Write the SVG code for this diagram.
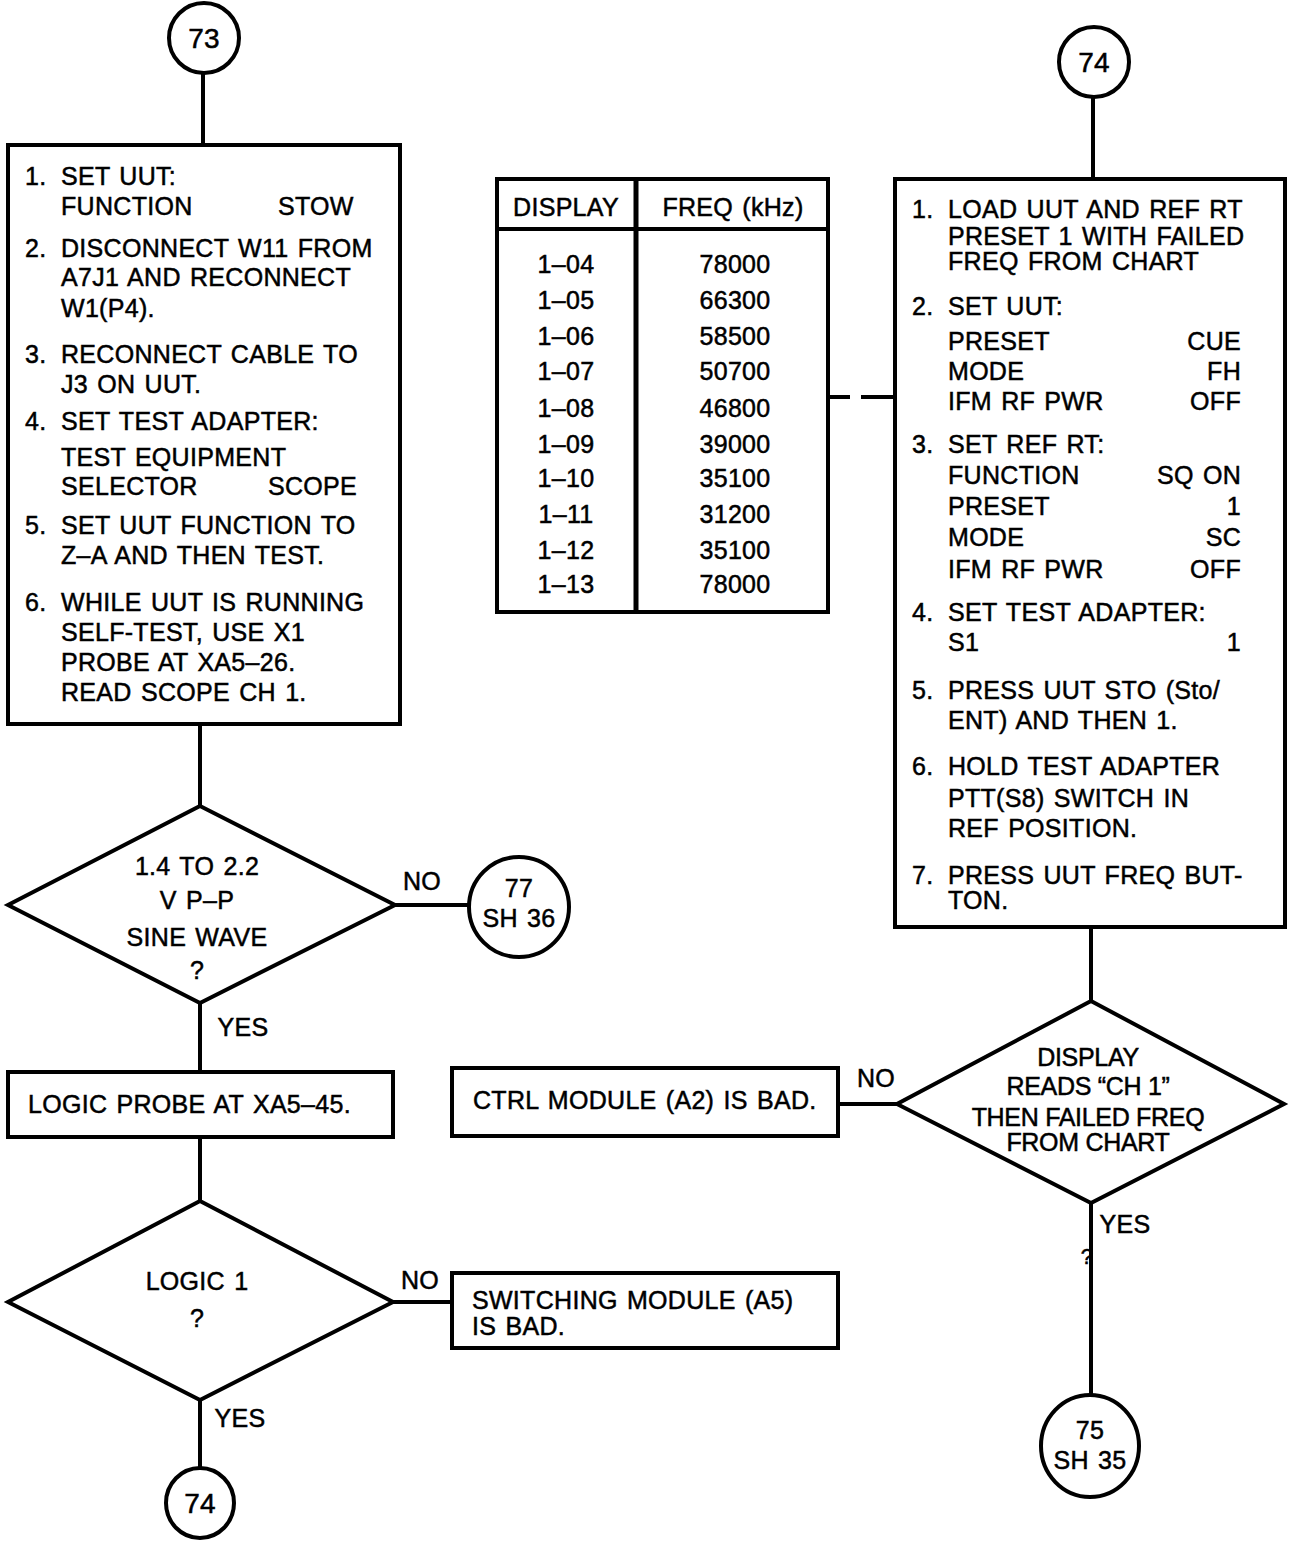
<svg xmlns="http://www.w3.org/2000/svg" width="1290" height="1541" viewBox="0 0 1290 1541">
  <style>
    .shape { fill: #fff; stroke: #000; stroke-width: 4; }
    .line { fill: none; stroke: #000; stroke-width: 4; }
    text { font-family: "Liberation Sans", Arial, sans-serif; font-size: 25px; fill: #000; stroke: #000; stroke-width: 0.5; letter-spacing: 0.3px; word-spacing: 2px; }
    .c { text-anchor: middle; }
    .r { text-anchor: end; }
    .tight { letter-spacing: -0.3px; word-spacing: 0; }
  </style>
  <rect width="1290" height="1541" fill="#fff"/>

  <!-- connectors -->
  <g id="connectors">
    <line class="line" x1="203" y1="73" x2="203" y2="145"/>
    <line class="line" x1="200" y1="724" x2="200" y2="806"/>
    <line class="line" x1="395" y1="905" x2="469" y2="905"/>
    <line class="line" x1="200" y1="1003" x2="200" y2="1072"/>
    <line class="line" x1="200" y1="1137" x2="200" y2="1201"/>
    <line class="line" x1="393" y1="1302" x2="452" y2="1302"/>
    <line class="line" x1="200" y1="1400" x2="200" y2="1468"/>
    <line class="line" x1="1093" y1="97" x2="1093" y2="178"/>
    <line class="line" x1="828" y1="397" x2="850" y2="397"/>
    <line class="line" x1="861" y1="397" x2="895" y2="397"/>
    <line class="line" x1="1091" y1="927" x2="1091" y2="1001"/>
    <line class="line" x1="838" y1="1104" x2="897" y2="1104"/>
    <line class="line" x1="1091" y1="1203" x2="1091" y2="1396"/>
    <text x="422" y="890" class="c">NO</text>
    <text x="243" y="1036" class="c">YES</text>
    <text x="420" y="1289" class="c">NO</text>
    <text x="240" y="1427" class="c">YES</text>
    <text x="876" y="1087" class="c">NO</text>
    <text x="1125" y="1233" class="c">YES</text>
    <text x="1087" y="1264" class="c" style="font-size:22px">?</text>
  </g>

  <!-- off-page connector 73 -->
  <g id="n73">
    <circle class="shape" cx="204" cy="38" r="35"/>
    <text x="204" y="48" class="c" style="font-size:28px">73</text>
  </g>

  <!-- setup steps -->
  <g id="setup">
    <rect class="shape" x="8" y="145" width="392" height="579"/>
    <text x="25" y="185">1.</text><text x="61" y="185">SET UUT:</text>
    <text x="61" y="215">FUNCTION</text><text x="278" y="215">STOW</text>
    <text x="25" y="257">2.</text><text x="61" y="257">DISCONNECT W11 FROM</text>
    <text x="61" y="286">A7J1 AND RECONNECT</text>
    <text x="61" y="317">W1(P4).</text>
    <text x="25" y="363">3.</text><text x="61" y="363">RECONNECT CABLE TO</text>
    <text x="61" y="393">J3 ON UUT.</text>
    <text x="25" y="430">4.</text><text x="61" y="430">SET TEST ADAPTER:</text>
    <text x="61" y="466">TEST EQUIPMENT</text>
    <text x="61" y="495">SELECTOR</text><text x="268" y="495">SCOPE</text>
    <text x="25" y="534">5.</text><text x="61" y="534">SET UUT FUNCTION TO</text>
    <text x="61" y="564">Z–A AND THEN TEST.</text>
    <text x="25" y="611">6.</text><text x="61" y="611">WHILE UUT IS RUNNING</text>
    <text x="61" y="641">SELF-TEST, USE X1</text>
    <text x="61" y="671">PROBE AT XA5–26.</text>
    <text x="61" y="701">READ SCOPE CH 1.</text>
  </g>

  <!-- sine wave check -->
  <g id="sine-check">
    <polygon class="shape" points="200,806 395,905 200,1003 8,905"/>
    <text x="197" y="875" class="c">1.4 TO 2.2</text>
    <text x="197" y="909" class="c">V P–P</text>
    <text x="197" y="946" class="c">SINE WAVE</text>
    <text x="197" y="979" class="c">?</text>
  </g>

  <!-- off-page connector 77 -->
  <g id="n77">
    <circle class="shape" cx="519" cy="907" r="50"/>
    <text x="519" y="897" class="c">77</text>
    <text x="519" y="927" class="c">SH 36</text>
  </g>

  <!-- logic probe step -->
  <g id="logic-probe">
    <rect class="shape" x="8" y="1072" width="385" height="65"/>
    <text x="28" y="1113">LOGIC PROBE AT XA5–45.</text>
  </g>

  <!-- logic 1 check -->
  <g id="logic-check">
    <polygon class="shape" points="200,1201 393,1302 200,1400 8,1302"/>
    <text x="197" y="1290" class="c">LOGIC 1</text>
    <text x="197" y="1327" class="c">?</text>
  </g>

  <!-- switching module result -->
  <g id="a5-bad">
    <rect class="shape" x="452" y="1273" width="386" height="75"/>
    <text x="472" y="1309">SWITCHING MODULE (A5)</text>
    <text x="472" y="1335">IS BAD.</text>
  </g>

  <!-- off-page connector 74 (bottom) -->
  <g id="n74-out">
    <ellipse class="shape" cx="200" cy="1503" rx="34" ry="35"/>
    <text x="200" y="1513" class="c" style="font-size:28px">74</text>
  </g>

  <!-- display / frequency chart -->
  <g id="freq-chart">
    <rect class="shape" x="497" y="179" width="331" height="433"/>
    <line class="line" x1="497" y1="229" x2="828" y2="229"/>
    <line class="line" x1="636" y1="179" x2="636" y2="612" style="stroke-width:5"/>
    <text x="566" y="216" class="c">DISPLAY</text>
    <text x="733" y="216" class="c">FREQ (kHz)</text>
    <text x="566" y="273" class="c">1–04</text><text x="735" y="273" class="c">78000</text>
    <text x="566" y="309" class="c">1–05</text><text x="735" y="309" class="c">66300</text>
    <text x="566" y="345" class="c">1–06</text><text x="735" y="345" class="c">58500</text>
    <text x="566" y="380" class="c">1–07</text><text x="735" y="380" class="c">50700</text>
    <text x="566" y="417" class="c">1–08</text><text x="735" y="417" class="c">46800</text>
    <text x="566" y="453" class="c">1–09</text><text x="735" y="453" class="c">39000</text>
    <text x="566" y="487" class="c">1–10</text><text x="735" y="487" class="c">35100</text>
    <text x="566" y="523" class="c">1–11</text><text x="735" y="523" class="c">31200</text>
    <text x="566" y="559" class="c">1–12</text><text x="735" y="559" class="c">35100</text>
    <text x="566" y="593" class="c">1–13</text><text x="735" y="593" class="c">78000</text>
  </g>

  <!-- off-page connector 74 (top) -->
  <g id="n74-in">
    <circle class="shape" cx="1094" cy="62" r="35"/>
    <text x="1094" y="72" class="c" style="font-size:28px">74</text>
  </g>

  <!-- preset load steps -->
  <g id="preset-steps">
    <rect class="shape" x="895" y="179" width="390" height="748"/>
    <text x="912" y="218">1.</text><text x="948" y="218">LOAD UUT AND REF RT</text>
    <text x="948" y="245">PRESET 1 WITH FAILED</text>
    <text x="948" y="270">FREQ FROM CHART</text>
    <text x="912" y="315">2.</text><text x="948" y="315">SET UUT:</text>
    <text x="948" y="350">PRESET</text><text x="1241" y="350" class="r">CUE</text>
    <text x="948" y="380">MODE</text><text x="1241" y="380" class="r">FH</text>
    <text x="948" y="410">IFM RF PWR</text><text x="1241" y="410" class="r">OFF</text>
    <text x="912" y="453">3.</text><text x="948" y="453">SET REF RT:</text>
    <text x="948" y="484">FUNCTION</text><text x="1241" y="484" class="r">SQ ON</text>
    <text x="948" y="515">PRESET</text><text x="1241" y="515" class="r">1</text>
    <text x="948" y="546">MODE</text><text x="1241" y="546" class="r">SC</text>
    <text x="948" y="578">IFM RF PWR</text><text x="1241" y="578" class="r">OFF</text>
    <text x="912" y="621">4.</text><text x="948" y="621">SET TEST ADAPTER:</text>
    <text x="948" y="651">S1</text><text x="1241" y="651" class="r">1</text>
    <text x="912" y="699">5.</text><text x="948" y="699">PRESS UUT STO (Sto/</text>
    <text x="948" y="729">ENT) AND THEN 1.</text>
    <text x="912" y="775">6.</text><text x="948" y="775">HOLD TEST ADAPTER</text>
    <text x="948" y="807">PTT(S8) SWITCH IN</text>
    <text x="948" y="837">REF POSITION.</text>
    <text x="912" y="884">7.</text><text x="948" y="884">PRESS UUT FREQ BUT-</text>
    <text x="948" y="909">TON.</text>
  </g>

  <!-- display check -->
  <g id="display-check">
    <polygon class="shape" points="1091,1001 1284,1104 1091,1203 897,1104"/>
    <text x="1088" y="1066" class="c tight">DISPLAY</text>
    <text x="1088" y="1095" class="c tight">READS “CH 1”</text>
    <text x="1088" y="1126" class="c tight">THEN FAILED FREQ</text>
    <text x="1088" y="1151" class="c tight">FROM CHART</text>
  </g>

  <!-- control module result -->
  <g id="a2-bad">
    <rect class="shape" x="452" y="1068" width="386" height="68"/>
    <text x="473" y="1109">CTRL MODULE (A2) IS BAD.</text>
  </g>

  <!-- off-page connector 75 -->
  <g id="n75">
    <ellipse class="shape" cx="1090" cy="1446" rx="49" ry="51"/>
    <text x="1090" y="1439" class="c">75</text>
    <text x="1090" y="1469" class="c">SH 35</text>
  </g>
</svg>
